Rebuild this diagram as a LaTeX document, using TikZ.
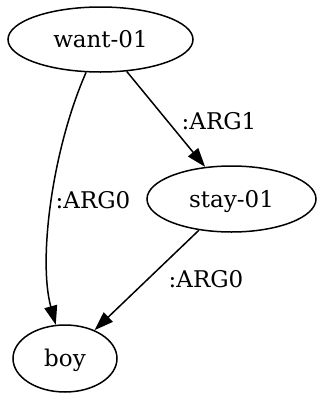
\documentclass[tikz,border=0pt]{standalone}
\usepackage{fontspec}
\setmainfont{DejaVu Serif}
\usetikzlibrary{shapes.geometric,arrows.meta}
\tikzset{
  concept/.style={ellipse, draw, line width=1.5pt, inner sep=0pt,
    font=\fontsize{23}{26}\selectfont, text height=16.5pt, text depth=0pt},
  rel/.style={font=\fontsize{23}{26}\selectfont, inner sep=0pt, text height=16.5pt, text depth=0pt},
  edge/.style={line width=1.5pt, -{Triangle[length=19pt,width=13pt]}}
}
\begin{document}
\begin{tikzpicture}[x=1pt,y=-1pt]
  \useasboundingbox (0,0) rectangle (320,394);
  \node[concept, minimum width=185pt, minimum height=65pt] (want) at (100.5,39.5) {want-01};
  \node[concept, minimum width=169pt, minimum height=66pt] (stay) at (231.5,199) {stay-01};
  \node[concept, minimum width=104pt, minimum height=67pt] (boy) at (65,358.5) {boy};
  \draw[edge] (want) .. controls (52,150) and (38,260) .. (boy);
  \draw[edge] (want) -- (stay);
  \draw[edge] (stay) -- (boy);
  \node[rel] (l1) at (219,121) {:ARG1};
  \node[rel] (l2) at (93,200) {:ARG0};
  \node[rel] (l3) at (206,279) {:ARG0};
\end{tikzpicture}
\end{document}
